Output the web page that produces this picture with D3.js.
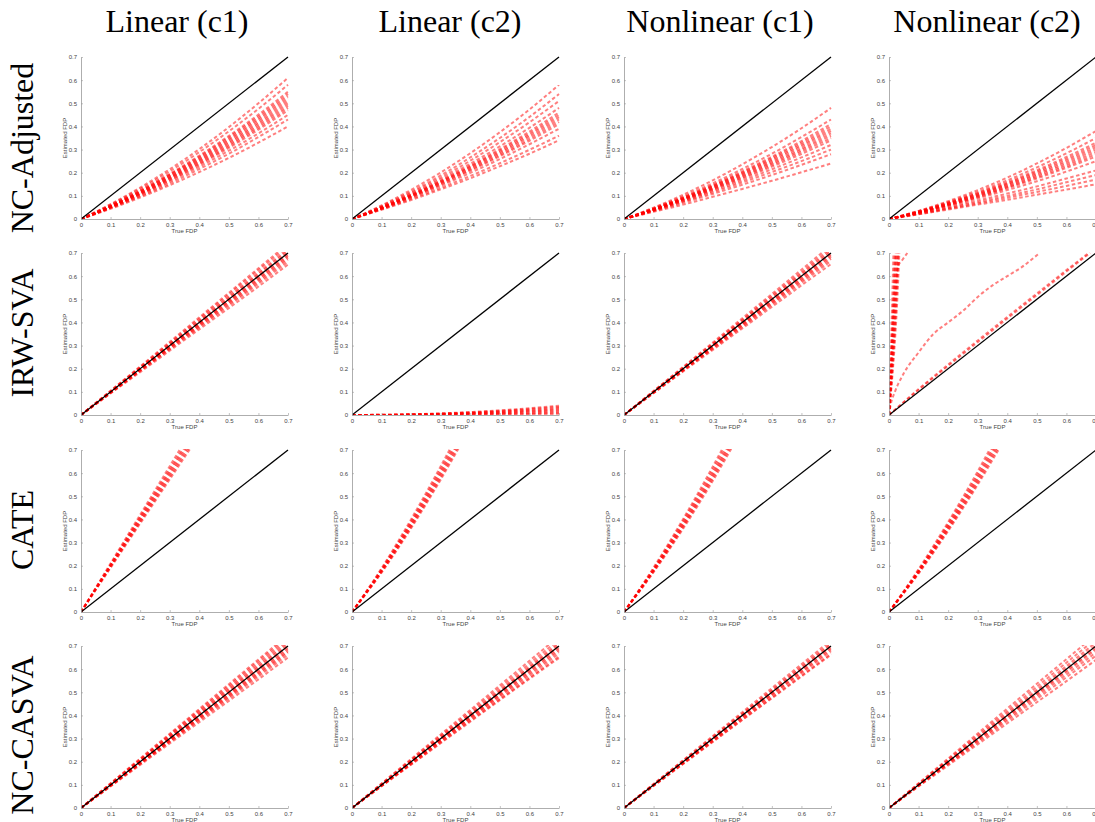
<!DOCTYPE html>
<html>
<head>
<meta charset="utf-8">
<script src="https://cdn.jsdelivr.net/npm/d3@7/dist/d3.min.js"></script>
<style>
  body { margin: 0; background: #fff; }
  svg { display: block; }
</style>
</head>
<body>
<svg id="chart" width="1095" height="822"></svg>
<script>
// row and column headings
var methods = ["NC-Adjusted", "IRW-SVA", "CATE", "NC-CASVA"];
var settings = ["Linear (c1)", "Linear (c2)", "Nonlinear (c1)", "Nonlinear (c2)"];

var fdpTicks = [0, 0.1, 0.2, 0.3, 0.4, 0.5, 0.6, 0.7];
// true FDP grid the curves were read at
var fdpGrid = [0, 0.1, 0.2, 0.3, 0.4, 0.5, 0.6, 0.7];

// estimated FDP per run (one array per curve)
var ncAdjLinC1 = [
  [0, .044, .093, .146, .203, .264, .330, .40],
  [0, .047, .098, .154, .216, .282, .354, .43],
  [0, .049, .102, .162, .226, .295, .370, .45],
  [0, .050, .106, .167, .234, .307, .386, .47],
  [0, .051, .108, .171, .239, .314, .394, .48],
  [0, .052, .110, .175, .244, .320, .402, .49],
  [0, .053, .112, .178, .249, .327, .410, .50],
  [0, .054, .115, .181, .254, .333, .418, .51],
  [0, .055, .117, .185, .259, .340, .427, .52],
  [0, .056, .119, .188, .264, .346, .435, .53],
  [0, .057, .121, .192, .269, .353, .443, .54],
  [0, .058, .124, .195, .274, .359, .451, .55],
  [0, .062, .130, .206, .289, .379, .476, .58],
  [0, .064, .136, .215, .302, .397, .500, .61]
];
var ncAdjLinC2 = [
  [0, .040, .082, .128, .176, .228, .282, .34],
  [0, .042, .087, .135, .186, .241, .299, .36],
  [0, .044, .092, .144, .199, .259, .323, .39],
  [0, .045, .095, .149, .208, .271, .338, .41],
  [0, .046, .097, .153, .213, .277, .346, .42],
  [0, .047, .099, .156, .218, .284, .355, .43],
  [0, .048, .102, .160, .223, .290, .363, .44],
  [0, .049, .103, .162, .227, .296, .370, .45],
  [0, .050, .105, .165, .231, .302, .378, .46],
  [0, .051, .108, .171, .239, .314, .394, .48],
  [0, .053, .113, .179, .252, .332, .418, .51],
  [0, .056, .118, .188, .266, .350, .441, .54],
  [0, .059, .126, .201, .284, .375, .473, .58]
];
var ncAdjNonlinC1 = [
  [0, .031, .062, .096, .130, .165, .202, .24],
  [0, .034, .070, .108, .148, .190, .234, .28],
  [0, .036, .075, .115, .158, .203, .250, .30],
  [0, .037, .078, .121, .166, .215, .266, .32],
  [0, .039, .081, .126, .174, .226, .281, .34],
  [0, .040, .083, .129, .179, .233, .290, .35],
  [0, .040, .085, .132, .184, .239, .298, .36],
  [0, .041, .086, .135, .188, .245, .305, .37],
  [0, .042, .088, .138, .193, .251, .314, .38],
  [0, .043, .090, .141, .197, .257, .321, .39],
  [0, .043, .091, .144, .201, .263, .329, .40],
  [0, .044, .094, .147, .206, .269, .337, .41],
  [0, .047, .098, .154, .216, .282, .354, .43],
  [0, .049, .105, .167, .236, .311, .392, .48]
];
var ncAdjNonlinC2 = [
  [0, .020, .041, .062, .083, .105, .127, .15],
  [0, .021, .044, .067, .092, .117, .143, .17],
  [0, .023, .047, .073, .100, .128, .159, .19],
  [0, .025, .051, .080, .110, .141, .175, .21],
  [0, .027, .056, .089, .125, .163, .205, .25],
  [0, .028, .059, .094, .133, .175, .221, .27],
  [0, .028, .060, .097, .137, .181, .228, .28],
  [0, .029, .062, .100, .141, .187, .236, .29],
  [0, .030, .065, .103, .146, .193, .244, .30],
  [0, .030, .066, .106, .150, .199, .252, .31],
  [0, .031, .068, .109, .154, .205, .260, .32],
  [0, .033, .070, .112, .159, .211, .268, .33],
  [0, .034, .073, .117, .167, .223, .284, .35],
  [0, .035, .077, .125, .179, .240, .307, .38]
];

var irwLinC1 = [
  [0, .093, .185, .278, .370, .462, .555, .650],
  [0, .095, .190, .284, .378, .472, .567, .662],
  [0, .096, .192, .288, .383, .479, .575, .672],
  [0, .097, .194, .291, .388, .485, .582, .680],
  [0, .098, .196, .294, .392, .490, .588, .687],
  [0, .099, .198, .297, .396, .495, .594, .694],
  [0, .100, .200, .300, .400, .500, .601, .702],
  [0, .101, .202, .303, .404, .506, .608, .710],
  [0, .102, .204, .306, .409, .512, .615, .718],
  [0, .103, .207, .311, .416, .521, .626, .730],
  [0, .105, .210, .316, .422, .528, .634, .740]
];
var irwLinC2 = [
  [0, .001, .003, .007, .013, .020, .029, .040],
  [0, .001, .003, .006, .011, .018, .026, .035],
  [0, .001, .002, .005, .010, .015, .022, .030],
  [0, .000, .002, .005, .008, .013, .018, .025],
  [0, .000, .002, .004, .007, .010, .015, .020],
  [0, .000, .001, .003, .005, .008, .011, .015],
  [0, .000, .001, .002, .003, .005, .007, .010],
  [0, .000, .000, .001, .002, .003, .004, .005]
];
var irwNonlinC1 = [
  [0, .094, .188, .281, .374, .467, .560, .652],
  [0, .095, .191, .286, .381, .476, .571, .665],
  [0, .097, .193, .290, .386, .482, .579, .675],
  [0, .098, .195, .293, .390, .487, .585, .683],
  [0, .099, .197, .296, .394, .492, .591, .690],
  [0, .099, .199, .298, .398, .497, .597, .697],
  [0, .100, .201, .302, .402, .503, .604, .705],
  [0, .101, .203, .305, .407, .509, .611, .713],
  [0, .102, .205, .308, .411, .515, .618, .722],
  [0, .104, .208, .313, .418, .523, .628, .733]
];
// this panel has its own [true, estimated] points
var irwNonlinC2 = [
  [[0, 0], [0.004, 0.17], [0.008, 0.36], [0.012, 0.55], [0.015, 0.70]],
  [[0, 0], [0.005, 0.16], [0.010, 0.34], [0.015, 0.52], [0.020, 0.70]],
  [[0, 0], [0.0055, 0.155], [0.011, 0.33], [0.0165, 0.51], [0.022, 0.70]],
  [[0, 0], [0.006, 0.15], [0.012, 0.32], [0.018, 0.50], [0.024, 0.70]],
  [[0, 0], [0.007, 0.14], [0.014, 0.30], [0.021, 0.48], [0.028, 0.70]],
  [[0, 0], [0.0075, 0.135], [0.015, 0.29], [0.0225, 0.47], [0.030, 0.70]],
  [[0, 0], [0.008, 0.13], [0.016, 0.28], [0.024, 0.46], [0.032, 0.70]],
  [[0, 0], [0.009, 0.13], [0.018, 0.28], [0.027, 0.47], [0.035, 0.70]],
  [[0, 0], [0.008, 0.20], [0.016, 0.42], [0.030, 0.64], [0.045, 0.67], [0.062, 0.70]],
  [[0, 0], [0.005, 0.04], [0.02, 0.10], [0.05, 0.18], [0.1, 0.27], [0.15, 0.35], [0.2, 0.40],
   [0.25, 0.45], [0.3, 0.51], [0.35, 0.56], [0.4, 0.60], [0.45, 0.64], [0.5, 0.69], [0.51, 0.70]],
  [[0, 0], [0.1, 0.112], [0.2, 0.218], [0.3, 0.322], [0.4, 0.424], [0.5, 0.525], [0.6, 0.626], [0.675, 0.70]],
  [[0, 0], [0.1, 0.108], [0.2, 0.212], [0.3, 0.315], [0.4, 0.417], [0.5, 0.518], [0.6, 0.620], [0.68, 0.70]]
];

var cateLinC1 = [
  [0, .191, .382, .573, .764],
  [0, .194, .388, .582, .776],
  [0, .197, .394, .591, .788],
  [0, .200, .400, .600, .800],
  [0, .203, .406, .609, .812],
  [0, .206, .412, .618, .824],
  [0, .210, .420, .630, .840]
];
var cateLinC2 = [
  [0, .170, .362, .572, .798],
  [0, .173, .368, .581, .810],
  [0, .176, .374, .590, .822],
  [0, .179, .380, .599, .834],
  [0, .182, .386, .608, .846],
  [0, .185, .393, .618, .858],
  [0, .189, .401, .630, .872]
];
var cateNonlinC1 = [
  [0, .172, .360, .566, .790],
  [0, .175, .367, .576, .803],
  [0, .178, .373, .585, .815],
  [0, .181, .379, .594, .827],
  [0, .184, .386, .604, .840],
  [0, .188, .394, .616, .855],
  [0, .192, .402, .628, .870]
];
var cateNonlinC2 = [
  [0, .166, .350, .550, .766],
  [0, .169, .356, .559, .779],
  [0, .172, .362, .568, .792],
  [0, .175, .368, .577, .805],
  [0, .178, .374, .586, .818],
  [0, .181, .381, .596, .832],
  [0, .185, .389, .608, .848]
];

var casvaLinC1 = [
  [0, .093, .186, .279, .371, .463, .556, .650],
  [0, .095, .190, .285, .379, .473, .568, .662],
  [0, .096, .192, .288, .384, .480, .576, .672],
  [0, .097, .194, .291, .388, .485, .582, .678],
  [0, .098, .196, .294, .392, .490, .588, .686],
  [0, .099, .198, .297, .396, .495, .595, .694],
  [0, .100, .200, .301, .401, .501, .602, .702],
  [0, .101, .202, .304, .405, .507, .609, .711],
  [0, .102, .205, .308, .410, .513, .616, .720],
  [0, .104, .208, .312, .416, .520, .625, .730],
  [0, .105, .211, .317, .422, .528, .634, .740],
  [0, .107, .214, .321, .428, .535, .642, .749]
];
var casvaLinC2 = [
  [0, .094, .187, .280, .373, .466, .558, .648],
  [0, .095, .189, .283, .377, .470, .563, .655],
  [0, .096, .192, .288, .383, .478, .573, .667],
  [0, .097, .194, .291, .388, .485, .581, .677],
  [0, .098, .196, .294, .392, .490, .588, .685],
  [0, .099, .198, .297, .396, .495, .594, .693],
  [0, .100, .200, .300, .400, .500, .600, .700],
  [0, .101, .202, .303, .404, .505, .606, .708],
  [0, .102, .204, .306, .408, .510, .613, .716],
  [0, .104, .208, .312, .416, .520, .624, .728],
  [0, .106, .212, .318, .424, .530, .636, .742]
];
var casvaNonlinC1 = [
  [0, .095, .190, .285, .380, .474, .568, .662],
  [0, .096, .191, .287, .382, .477, .572, .667],
  [0, .097, .194, .291, .388, .485, .582, .678],
  [0, .098, .196, .294, .392, .490, .588, .686],
  [0, .099, .198, .297, .396, .495, .594, .693],
  [0, .100, .200, .300, .400, .500, .600, .700],
  [0, .101, .202, .303, .404, .505, .606, .707],
  [0, .102, .204, .306, .408, .510, .612, .714],
  [0, .104, .207, .311, .414, .518, .621, .725]
];
var casvaNonlinC2 = [
  [0, .093, .184, .275, .366, .457, .548, .640],
  [0, .095, .189, .283, .377, .471, .565, .658],
  [0, .097, .193, .289, .385, .481, .577, .672],
  [0, .098, .196, .294, .392, .490, .588, .685],
  [0, .099, .198, .297, .396, .495, .594, .693],
  [0, .100, .201, .302, .403, .504, .604, .704],
  [0, .102, .204, .307, .410, .512, .614, .716],
  [0, .104, .209, .314, .419, .524, .628, .732],
  [0, .107, .214, .322, .430, .537, .643, .750]
];

// grid: rows = methods, cols = settings
var grid = [
  [ncAdjLinC1, ncAdjLinC2, ncAdjNonlinC1, ncAdjNonlinC2],
  [irwLinC1, irwLinC2, irwNonlinC1, irwNonlinC2],
  [cateLinC1, cateLinC2, cateNonlinC1, cateNonlinC2],
  [casvaLinC1, casvaLinC2, casvaNonlinC1, casvaNonlinC2]
];

function toPoints(run) {
  // runs are either y values on fdpGrid or explicit [x, y] pairs
  if (Array.isArray(run[0])) return run;
  return run.map(function(v, i) { return [fdpGrid[i], v]; });
}

var svg = d3.select('#chart');

var colLeft = [81, 352, 624, 889];
var rowTop = [57, 253, 450, 646];
var pw = 207, ph = 162;

var titleX = [177, 450, 720, 987];
var labelY = [148, 333, 530, 735];

svg.selectAll('text.colTitle')
  .data(settings)
  .enter().append('text')
    .attr('class', 'colTitle')
    .attr('x', function(d, i) { return titleX[i]; })
    .attr('y', 32)
    .attr('text-anchor', 'middle')
    .style('font-family', '"Liberation Serif", "DejaVu Serif", serif')
    .style('font-size', '32px')
    .text(function(d) { return d; });

svg.selectAll('text.rowTitle')
  .data(methods)
  .enter().append('text')
    .attr('class', 'rowTitle')
    .attr('transform', function(d, i) { return 'translate(33,' + labelY[i] + ') rotate(-90)'; })
    .attr('text-anchor', 'middle')
    .style('font-family', '"Liberation Serif", "DejaVu Serif", serif')
    .style('font-size', '32px')
    .text(function(d) { return d; });

grid.forEach(function(row, r) {
  row.forEach(function(runs, c) {
    var x = d3.scaleLinear().domain([0, 0.7]).range([0, pw]);
    var y = d3.scaleLinear().domain([0, 0.7]).range([ph, 0]);

    var g = svg.append('g')
      .attr('transform', 'translate(' + colLeft[c] + ',' + rowTop[r] + ')');

    var clipId = 'clip' + r + '_' + c;
    g.append('clipPath').attr('id', clipId)
      .append('rect')
        .attr('x', 0).attr('y', -1)
        .attr('width', pw + 1).attr('height', ph + 1);

    var line = d3.line()
      .x(function(d) { return x(d[0]); })
      .y(function(d) { return y(d[1]); })
      .curve(d3.curveMonotoneX);

    var plot = g.append('g').attr('clip-path', 'url(#' + clipId + ')');

    plot.selectAll('path.run')
      .data(runs.map(toPoints))
      .enter().append('path')
        .attr('class', 'run')
        .attr('d', line)
        .attr('fill', 'none')
        .attr('stroke', '#ff0000')
        .attr('stroke-opacity', 0.5)
        .attr('stroke-width', 2)
        .attr('stroke-dasharray', '3.5,2.5');

    // y = x reference
    plot.append('path')
      .attr('d', line([[0, 0], [0.7, 0.7]]))
      .attr('fill', 'none')
      .attr('stroke', '#000')
      .attr('stroke-width', 1.3);

    var xAxis = d3.axisBottom(x).tickValues(fdpTicks).tickSizeInner(-2).tickSizeOuter(0)
      .tickPadding(4).tickFormat(d3.format('~g'));
    var yAxis = d3.axisLeft(y).tickValues(fdpTicks).tickSizeInner(-2).tickSizeOuter(0)
      .tickPadding(4).tickFormat(d3.format('~g'));

    var gx = g.append('g').attr('transform', 'translate(0,' + ph + ')').call(xAxis);
    var gy = g.append('g').call(yAxis);

    [gx, gy].forEach(function(a) {
      a.select('.domain').attr('stroke', '#999').attr('stroke-width', 0.8);
      a.selectAll('.tick line').attr('stroke', '#999').attr('stroke-width', 0.6);
      a.selectAll('.tick text')
        .attr('fill', '#444')
        .style('font-family', '"Liberation Sans", Arial, sans-serif')
        .style('font-size', '6px');
    });

    g.append('text')
      .attr('x', pw / 2)
      .attr('y', ph + 14)
      .attr('text-anchor', 'middle')
      .attr('fill', '#444')
      .style('font-family', '"Liberation Sans", Arial, sans-serif')
      .style('font-size', '6px')
      .text('True FDP');

    g.append('text')
      .attr('transform', 'translate(-14,' + (ph / 2) + ') rotate(-90)')
      .attr('text-anchor', 'middle')
      .attr('fill', '#444')
      .style('font-family', '"Liberation Sans", Arial, sans-serif')
      .style('font-size', '6px')
      .text('Estimated FDP');
  });
});
</script>
</body>
</html>
